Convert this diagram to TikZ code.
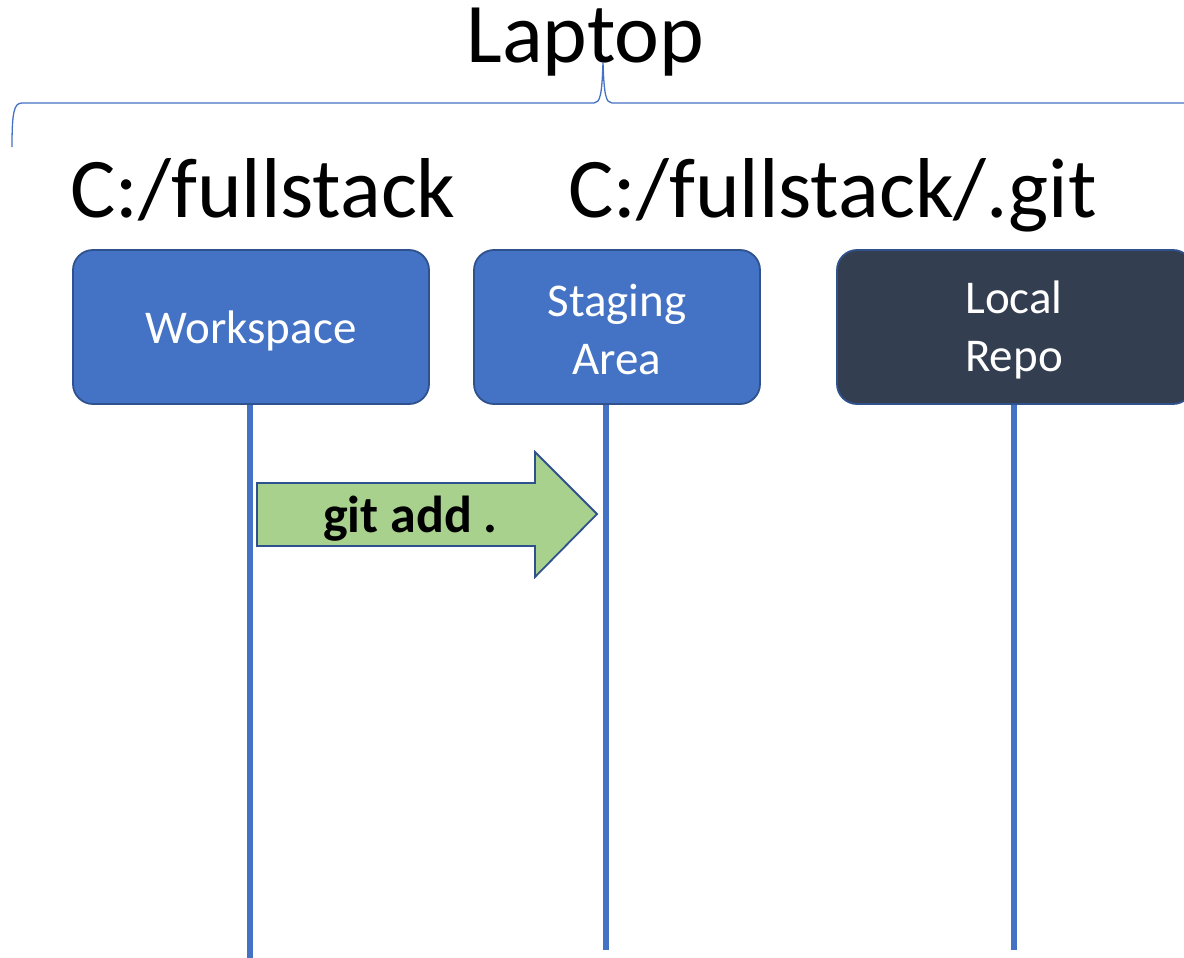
\documentclass[tikz,border=0pt]{standalone}
\usepackage{fontspec}
\setmainfont{Carlito}
\definecolor{accblue}{HTML}{4472C4}
\definecolor{bordblue}{HTML}{2F528F}
\definecolor{darkrepo}{HTML}{333F50}
\definecolor{addgreen}{HTML}{A9D18E}
\tikzset{
  boxbase/.style={draw=bordblue, line width=1.8pt, rounded corners=20pt,
    inner sep=0pt, minimum height=154pt},
  bluebox/.style={boxbase, fill=accblue},
  darkbox/.style={boxbase, fill=darkrepo},
  boxtext/.style={text=white, align=center, inner sep=0pt,
    font=\fontsize{47}{58}\selectfont},
  lifeline/.style={draw=accblue, line width=6pt},
  bigtext/.style={inner sep=0pt, font=\fontsize{85}{90}\selectfont},
}
\begin{document}
\begin{tikzpicture}[x=1pt,y=-1pt]
\useasboundingbox (0,0) rectangle (1184,958);
% title and brace
\node[bigtext, anchor=base] (laptop) at (585.5,63) {Laptop};
\draw[accblue, line width=1.3pt]
  (12,147) .. controls (12,112) and (14,103) .. (22,103) -- (594,103)
  .. controls (600,103) and (602,95) .. (603,62)
  .. controls (604,95) and (606,103) .. (612,103) -- (1190,103);
\node[bigtext, anchor=base west] (ws) at (70,217) {C:/fullstack};
\node[bigtext, anchor=base west] (git) at (568,217) {C:/fullstack/.git};
% boxes
\node[bluebox, minimum width=356pt] (work) at (251,327) {};
\node[bluebox, minimum width=286pt] (stage) at (617,327) {};
\node[darkbox, minimum width=356pt] (repo) at (1015,327) {};
\node[boxtext] (worktxt) at ([yshift=-4pt]work.center) {Workspace};
\node[boxtext] (stagetxt) at ([yshift=-3pt]stage.center) {Staging\\Area};
\node[boxtext] (repotxt) at ([xshift=-1pt,yshift=-3pt]repo.center) {Local\\Repo};
% lifelines
\coordinate (wend) at (250,958);
\coordinate (send) at (606,950);
\coordinate (rend) at (1014,950);
\draw[lifeline] (work.south -| wend) -- (wend);
\draw[lifeline] (stage.south -| send) -- (send);
\draw[lifeline] (repo.south -| rend) -- (rend);
% git add arrow
\draw[fill=addgreen, draw=bordblue, line width=1.8pt, line join=miter]
  (257,483) -- (535,483) -- (535,452) -- (597,514) -- (535,577) -- (535,546) -- (257,546) -- cycle;
\node[inner sep=0pt, anchor=base, font=\bfseries\fontsize{52}{56}\selectfont] (add) at (410.5,532) {git add .};
\end{tikzpicture}
\end{document}
